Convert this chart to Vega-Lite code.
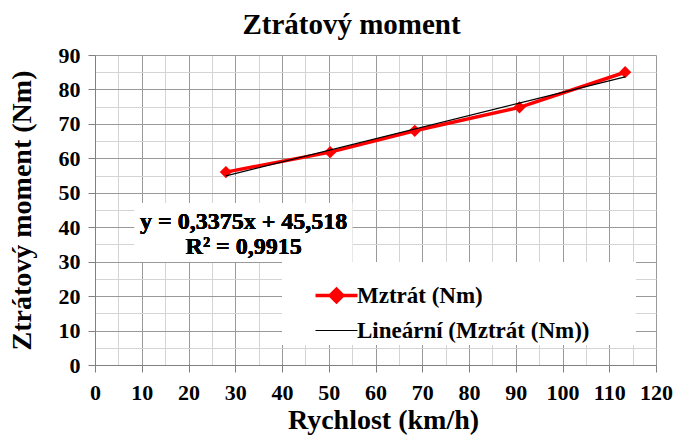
{
  "$schema": "https://vega.github.io/schema/vega-lite/v6.json",
  "autosize": "none",
  "width": 561,
  "height": 310,
  "padding": {"left": 95, "top": 55, "right": 18, "bottom": 72},
  "background": "white",
  "config": {
    "view": {"stroke": null}
  },
  "title": {"text": "Ztrátový moment", "font": "Liberation Serif", "fontSize": 29, "fontWeight": "bold", "color": "black", "anchor": "middle", "dx": -24, "offset": 4},
  "data": {"values": [
    {"x": 28.0, "y": 56.0},
    {"x": 50.3, "y": 61.8},
    {"x": 68.4, "y": 68.0},
    {"x": 90.8, "y": 74.8},
    {"x": 113.4, "y": 85.0}
  ]},
  "resolve": {"axis": {"x": "independent", "y": "independent"}},
  "layer": [
    {
      "mark": {"type": "rect", "fill": "white", "stroke": null},
      "encoding": {
        "x": {"datum": 8.5, "type": "quantitative", "scale": {"domain": [0, 120], "nice": false, "zero": true},
          "axis": {"orient": "top", "values": [5,15,25,35,45,55,65,75,85,95,105,115], "grid": true, "gridColor": "#d4d4d4", "gridWidth": 1, "labels": false, "ticks": false, "domain": false, "title": null}},
        "x2": {"datum": 55},
        "y": {"datum": 47, "type": "quantitative", "scale": {"domain": [0, 90], "nice": false},
          "axis": {"orient": "right", "values": [5,15,25,35,45,55,65,75,85], "grid": true, "gridColor": "#d4d4d4", "gridWidth": 1, "labels": false, "ticks": false, "domain": false, "title": null}},
        "y2": {"datum": 30}
      }
    },
    {
      "mark": {"type": "rect", "fill": "white", "stroke": null},
      "encoding": {
        "x": {"datum": 40, "type": "quantitative", "axis": null},
        "x2": {"datum": 115.7},
        "y": {"datum": 29.9, "type": "quantitative", "axis": null},
        "y2": {"datum": 5.8}
      }
    },
    {
      "mark": {"type": "line", "strokeWidth": 3.5, "color": "#ff0000"},
      "encoding": {
        "x": {"field": "x", "type": "quantitative",
          "axis": {"orient": "bottom", "values": [0,10,20,30,40,50,60,70,80,90,100,110,120], "grid": true, "gridColor": "#999999", "gridWidth": 1, "domainColor": "#808080", "tickColor": "#808080", "tickSize": 7, "labelFont": "Liberation Serif", "labelFontWeight": "bold", "labelColor": "black", "labelFontSize": 22, "labelPadding": 10, "title": "Rychlost (km/h)", "titleFont": "Liberation Serif", "titleFontWeight": "bold", "titleColor": "black", "titleFontSize": 28, "titlePadding": 3, "titleX": 288, "labelFlush": false}},
        "y": {"field": "y", "type": "quantitative",
          "axis": {"orient": "left", "values": [0,10,20,30,40,50,60,70,80,90], "grid": true, "gridColor": "#999999", "gridWidth": 1, "domainColor": "#808080", "tickColor": "#808080", "tickSize": 7, "labelFont": "Liberation Serif", "labelFontWeight": "bold", "labelColor": "black", "labelFontSize": 22, "labelPadding": 8, "title": "Ztrátový moment (Nm)", "titleFont": "Liberation Serif", "titleFontWeight": "bold", "titleColor": "black", "titleFontSize": 28, "titlePadding": 22, "labelFlush": false}},
        "color": {"datum": "Mztrát (Nm)", "type": "nominal",
          "scale": {"domain": ["Mztrát (Nm)", "Lineární (Mztrát (Nm))"], "range": ["#ff0000", "#000000"]},
          "legend": {
            "title": null, "orient": "none", "legendX": 230, "legendY": 229,
            "padding": 0, "labelFont": "Liberation Serif", "labelFontSize": 23, "labelFontWeight": "bold", "labelColor": "black",
            "symbolSize": 1764, "rowPadding": 10, "labelOffset": 9, "labelLimit": 400,
            "encode": {
              "symbols": {"update": {
              "shape": {"signal": "datum.value === 'Mztrát (Nm)' ? 'M-1,0L1,0M-0.3,0L0,-0.3L0.3,0L0,0.3Z' : 'M-1,0L1,0'"},
              "fill": {"signal": "datum.value === 'Mztrát (Nm)' ? '#ff0000' : 'transparent'"},
              "stroke": {"signal": "datum.value === 'Mztrát (Nm)' ? '#ff0000' : '#000000'"},
              "strokeWidth": {"signal": "datum.value === 'Mztrát (Nm)' ? 3.5 : 1"},
              "opacity": {"value": 1}
            }}}
          }}
      }
    },
    {
      "mark": {"type": "point", "shape": "diamond", "filled": true, "size": 150, "color": "#ff0000", "opacity": 1},
      "encoding": {
        "x": {"field": "x", "type": "quantitative", "axis": null},
        "y": {"field": "y", "type": "quantitative", "axis": null}
      }
    },
    {
      "transform": [{"regression": "y", "on": "x"}],
      "mark": {"type": "line", "strokeWidth": 1.2, "color": "black"},
      "encoding": {
        "x": {"field": "x", "type": "quantitative", "axis": null},
        "y": {"field": "y", "type": "quantitative", "axis": null},
        "color": {"datum": "Lineární (Mztrát (Nm))", "type": "nominal"}
      }
    },
    {
      "mark": {"type": "text", "font": "Liberation Serif", "fontSize": 24, "fontWeight": "bold", "color": "black", "align": "center", "baseline": "middle", "lineHeight": 25},
      "encoding": {
        "x": {"datum": 31.8, "type": "quantitative", "axis": null},
        "y": {"datum": 41.5, "type": "quantitative", "axis": null},
        "text": {"value": ["y = 0,3375x + 45,518", "R² = 0,9915"]}
      }
    }
  ]
}
